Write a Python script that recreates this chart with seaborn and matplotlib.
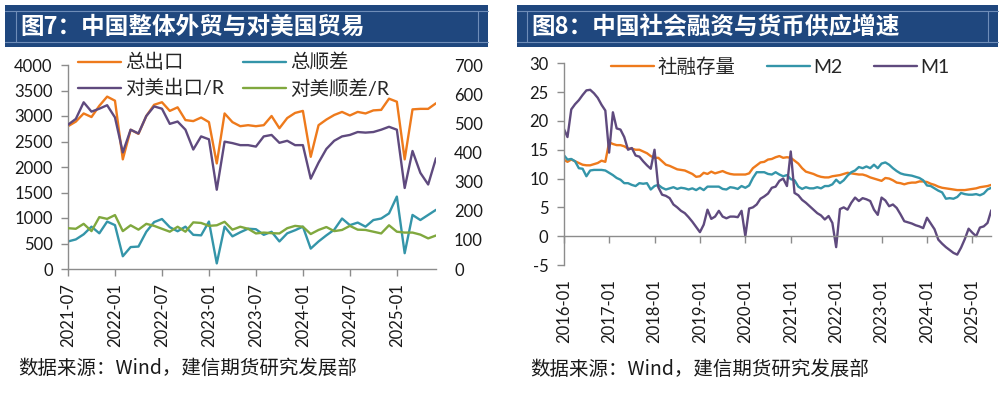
import pandas as pd
import matplotlib
matplotlib.use('Agg')
import matplotlib.pyplot as plt
import seaborn as sns
from matplotlib.patches import Rectangle
from matplotlib.lines import Line2D

# ---------------- 图7: monthly, 2021-07 .. 2025-06 ----------------
trade_months = pd.period_range('2021-07', '2025-06', freq='M').strftime('%Y-%m').tolist()
total_export = [2800, 2890, 3050, 2980, 3200, 3380, 3300, 2150, 2730, 2650,
                3000, 3220, 3270, 3100, 3170, 2920, 2900, 2970, 2880, 2070,
                3050, 2880, 2800, 2820, 2800, 2820, 3000, 2760, 2960, 3060,
                3100, 2200, 2820, 2930, 3020, 3080, 3010, 3080, 3050, 3110,
                3120, 3340, 3280, 2150, 3130, 3140, 3140, 3250]
total_surplus = [540, 580, 680, 830, 700, 930, 860, 250, 430, 440,
                 730, 920, 980, 820, 740, 830, 670, 660, 930, 110,
                 830, 640, 720, 790, 780, 670, 730, 540, 700, 760,
                 830, 400, 540, 660, 770, 990, 860, 910, 830, 960,
                 990, 1090, 1420, 310, 1060, 960, 1060, 1160]
us_export = [495, 515, 572, 540, 550, 562, 520, 400, 478, 465,
             525, 558, 550, 498, 506, 478, 410, 455, 445, 272,
             437, 432, 425, 425, 420, 455, 460, 433, 440, 425,
             425, 310, 365, 412, 440, 455, 460, 470, 468, 470,
             478, 488, 478, 278, 405, 330, 290, 380]
us_surplus = [140, 138, 155, 130, 178, 172, 185, 130, 150, 135,
              155, 148, 138, 128, 145, 128, 160, 158, 148, 150,
              162, 135, 145, 138, 122, 125, 123, 122, 140, 148,
              145, 120, 134, 144, 130, 134, 148, 135, 134, 128,
              122, 150, 128, 125, 125, 118, 105, 115]
trade_ticks = ['2021-07', '2022-01', '2022-07', '2023-01', '2023-07', '2024-01', '2024-07', '2025-01']

# ---------------- 图8: monthly, 2016-01 .. 2025-06 ----------------
money_months = pd.period_range('2016-01', '2025-06', freq='M').strftime('%Y-%m').tolist()
tsf = [13.3, 12.9, 13.3, 13.0, 12.7, 12.4, 12.3, 12.3, 12.5, 12.7, 13.1, 12.9,
       16.3, 16.0, 15.8, 15.8, 15.6, 15.2, 15.2, 15.0, 15.0, 14.7, 14.4, 13.9,
       13.6, 13.6, 13.0, 12.4,
       12.2, 11.9, 11.6, 11.5, 11.4, 11.1, 10.8, 10.3, 10.4, 11.0, 10.8, 11.2,
       10.9, 11.1, 11.3, 11.0, 10.8, 10.7, 10.7, 10.7, 10.7, 10.9, 11.8, 12.3,
       12.8, 12.9, 13.3, 13.4, 13.7, 13.9,
       13.6, 13.7, 13.6, 13.1, 12.6, 11.8, 11.2, 11.0, 10.8, 10.5, 10.3, 10.2,
       10.2, 10.4, 10.5, 10.6, 10.8, 11.0, 10.9, 10.8, 10.7, 10.7, 10.5, 10.2,
       10.0, 9.8, 9.6,
       10.1, 10.0, 9.7, 9.3, 9.2, 9.0, 9.2, 9.3, 9.3, 9.5, 9.5, 9.4,
       9.1, 8.9, 8.6, 8.4, 8.3, 8.2, 8.1, 8.0, 8.0, 8.0, 8.1, 8.2,
       8.3, 8.5, 8.6, 8.7, 8.9]
m2 = [14.1, 13.3, 13.4, 13.0, 11.8, 11.7, 10.4, 11.4, 11.5, 11.5, 11.5, 11.4,
      11.0, 10.6, 10.1, 9.8, 9.2, 9.2, 8.9, 8.7, 9.2, 9.1, 9.2, 8.1,
      8.7, 8.9, 8.4, 8.1,
      8.3, 8.5, 8.2, 8.4, 8.3, 8.1, 8.3, 8.0, 8.4, 8.0, 8.6, 8.6,
      8.6, 8.6, 8.2, 8.1, 8.5, 8.4, 8.2, 8.7, 8.4, 8.8, 10.1, 11.1,
      11.1, 11.1, 10.8, 10.7, 11.1, 10.7,
      10.4, 10.6, 9.9, 9.7, 8.6, 8.2, 8.5, 8.3, 8.3, 8.5, 8.3, 8.7,
      8.7, 9.0, 9.8, 9.2, 9.7, 10.5, 11.1, 11.4, 12.0, 11.8, 12.1, 11.8,
      12.4, 11.8, 12.6,
      12.8, 12.4, 11.8, 11.3, 10.9, 10.7, 10.6, 10.5, 10.3, 10.1, 9.7, 8.8,
      8.7, 8.3, 7.9, 7.6, 6.5, 6.6, 6.5, 6.8, 7.5, 7.3, 7.2, 7.2,
      7.3, 7.1, 7.4, 8.1, 8.4]
m1 = [18.7, 17.2, 22.0, 22.9, 23.6, 24.5, 25.3, 25.4, 24.8, 24.0, 22.8, 21.8,
      14.5, 21.5, 18.7, 18.5, 17.2, 15.0, 15.3, 14.0, 13.8, 13.0, 12.3, 11.7,
      15.0, 8.5, 7.2, 7.0,
      6.6, 5.5, 5.0, 4.4, 4.0, 3.3, 2.5, 1.6, 0.7, 2.0, 4.6, 3.0,
      3.4, 4.4, 3.4, 3.1, 3.4, 3.4, 3.3, 4.4, 0.0, 4.8, 5.0, 5.5,
      6.5, 6.9, 7.4, 8.4, 8.6, 9.6,
      10.0, 8.7, 14.7, 7.5, 7.1, 6.3, 5.8, 5.2, 4.6, 4.0, 3.6, 2.9,
      3.5, 2.3, -1.9, 4.7, 5.0, 4.6, 5.8, 6.7, 6.1, 6.6, 6.4, 6.1,
      4.6, 3.7, 6.7,
      6.2, 5.2, 5.5, 4.9, 3.8, 2.6, 2.4, 2.2, 1.9, 1.7, 1.4, 3.2,
      2.2, 1.2, -0.6, -1.3, -1.9, -2.4, -2.9, -3.2, -2.0, -0.5, 1.3, 0.6,
      0.0, 1.5, 1.7, 2.3, 4.5]
money_ticks = ['2016-01', '2017-01', '2018-01', '2019-01', '2020-01',
               '2021-01', '2022-01', '2023-01', '2024-01', '2025-01']

ORANGE = '#EE7A1C'
TEAL = '#3495A9'
PURPLE = '#5F4A7E'
GREEN = '#80A83E'
NAVY = '#1F477E'
AXIS = '#8C8C8C'
CJK = ['Noto Sans CJK SC', 'DejaVu Sans']
LW = 1.7

sns.set_style('white')
plt.rcParams['font.family'] = ['Lato', 'Noto Sans CJK SC', 'DejaVu Sans']
plt.rcParams['axes.unicode_minus'] = False

W, H = 1005, 394
fig = plt.figure(figsize=(W / 100, H / 100), dpi=100)


def fx(px):
    return px / W


def fy(py):
    return 1 - py / H


# title banners
for x0, x1, xi0, xi1, title, tx in [(5, 488, 16, 478, '图7：中国整体外贸与对美国贸易', 20),
                                      (517, 998, 527, 988, '图8：中国社会融资与货币供应增速', 531)]:
    fig.add_artist(Rectangle((fx(x0), fy(47)), fx(x1 - x0), 42 / H, transform=fig.transFigure,
                             facecolor=NAVY, edgecolor='none'))
    for yy in (11, 42):
        fig.add_artist(Line2D([fx(x0), fx(x1)], [fy(yy), fy(yy)], transform=fig.transFigure,
                              color='#6F8DB8', lw=0.8))
    for xx in (xi0, xi1):
        fig.add_artist(Line2D([fx(xx), fx(xx)], [fy(11), fy(42)], transform=fig.transFigure,
                              color='#6F8DB8', lw=0.8))
    fig.text(fx(tx), fy(27), title, color='white', fontsize=17, weight='bold',
             va='center', ha='left', family=CJK)

# ---------------- left chart ----------------
df_trade = pd.DataFrame({'pos': range(len(trade_months)), '总出口': total_export,
                         '总顺差': total_surplus, '对美出口/R': us_export, '对美顺差/R': us_surplus})
ax1 = fig.add_axes([fx(68), fy(269), fx(368), 204 / H])
ax2 = ax1.twinx()
sns.lineplot(data=df_trade, x='pos', y='总出口', ax=ax1, color=ORANGE, lw=LW, label='总出口')
sns.lineplot(data=df_trade, x='pos', y='总顺差', ax=ax1, color=TEAL, lw=LW, label='总顺差')
sns.lineplot(data=df_trade, x='pos', y='对美出口/R', ax=ax2, color=PURPLE, lw=LW, label='对美出口/R')
sns.lineplot(data=df_trade, x='pos', y='对美顺差/R', ax=ax2, color=GREEN, lw=LW, label='对美顺差/R')

ax1.set_xlim(0, len(trade_months) - 1)
ax1.set_ylim(0, 4000)
ax1.set_yticks(range(0, 4001, 500))
ax2.set_ylim(0, 700)
ax2.set_yticks(range(0, 701, 100))
ax1.set_xticks([trade_months.index(t) for t in trade_ticks])
ax1.set_xticklabels(trade_ticks, rotation=90)
ax1.set_xlabel('')
ax1.set_ylabel('')
ax2.set_ylabel('')
for s in ['top', 'right']:
    ax1.spines[s].set_visible(False)
for s in ax2.spines.values():
    s.set_visible(False)
for s in ['left', 'bottom']:
    ax1.spines[s].set_color(AXIS)
    ax1.spines[s].set_linewidth(1)
ax1.tick_params(axis='both', direction='out', length=5, width=1, color=AXIS,
                labelsize=12, labelcolor='#1a1a1a', left=True, bottom=True)
ax1.tick_params(axis='y', pad=6)
ax1.tick_params(axis='x', pad=5)
ax2.tick_params(axis='y', length=0, pad=13, labelsize=12, labelcolor='#1a1a1a')

h1, l1 = ax1.get_legend_handles_labels()
h2, l2 = ax2.get_legend_handles_labels()
ax1.get_legend().remove()
ax2.get_legend().remove()
ax2.legend([h1[0], h2[0], h1[1], h2[1]], [l1[0], l2[0], l1[1], l2[1]], ncol=2,
           loc='upper left', bbox_to_anchor=(fx(78), fy(53)), bbox_transform=fig.transFigure,
           frameon=False, fontsize=14, handlelength=2.2, handletextpad=0.2,
           columnspacing=1.0, labelspacing=0.4, borderpad=0, borderaxespad=0)

# ---------------- right chart ----------------
df_money = pd.DataFrame({'pos': range(len(money_months)), '社融存量': tsf, 'M2': m2, 'M1': m1})
ax3 = fig.add_axes([fx(563.7), fy(265), fx(427.6), 201.7 / H])
sns.lineplot(data=df_money, x='pos', y='社融存量', ax=ax3, color=ORANGE, lw=LW, label='社融存量')
sns.lineplot(data=df_money, x='pos', y='M2', ax=ax3, color=TEAL, lw=LW, label='M2')
sns.lineplot(data=df_money, x='pos', y='M1', ax=ax3, color=PURPLE, lw=LW, label='M1')
ax3.spines['bottom'].set_position(('data', 0))
ax3.set_xlim(0, len(money_months) - 1)
ax3.set_ylim(-5, 30)
ax3.set_yticks(range(-5, 31, 5))
ax3.set_xticks([money_months.index(t) for t in money_ticks])
ax3.set_xticklabels(money_ticks, rotation=90)
ax3.set_xlabel('')
ax3.set_ylabel('')
for s in ['top', 'right']:
    ax3.spines[s].set_visible(False)
for s in ['left', 'bottom']:
    ax3.spines[s].set_color(AXIS)
    ax3.spines[s].set_linewidth(1)
ax3.tick_params(axis='both', direction='out', length=5, width=1, color=AXIS,
                labelsize=12, labelcolor='#1a1a1a', left=True, bottom=True)
ax3.tick_params(axis='y', pad=6)
ax3.tick_params(axis='x', pad=26, labelrotation=90)
ax3.legend(ncol=3, loc='upper left', bbox_to_anchor=(fx(611), fy(57)),
           bbox_transform=fig.transFigure, frameon=False, fontsize=14, handlelength=2.2,
           handletextpad=0.2, columnspacing=1.6, borderpad=0, borderaxespad=0)

# source notes
fig.text(fx(18), fy(368), '数据来源：Wind，建信期货研究发展部', fontsize=14, style='italic',
         va='center', ha='left', family=CJK, color='#1a1a1a')
fig.text(fx(530), fy(369), '数据来源：Wind，建信期货研究发展部', fontsize=14, style='italic',
         va='center', ha='left', family=CJK, color='#1a1a1a')

fig.savefig('out.png', dpi=100)
